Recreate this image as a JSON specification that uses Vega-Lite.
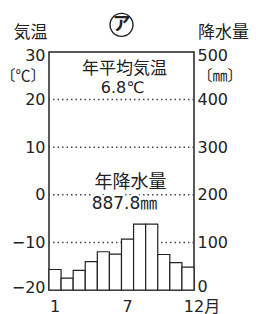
{
  "$schema": "https://vega.github.io/schema/vega-lite/v6.json",
  "width": 145,
  "height": 238,
  "autosize": {"type": "none"},
  "padding": {"left": 49, "top": 52, "right": 62, "bottom": 24},
  "background": "white",
  "config": {
    "view": {"stroke": "#222", "strokeWidth": 1.5},
    "font": "DejaVu Sans"
  },
  "datasets": {
    "climate": [
      {"month": 1, "precip": 43.1},
      {"month": 2, "precip": 24.8},
      {"month": 3, "precip": 41.2},
      {"month": 4, "precip": 59.6},
      {"month": 5, "precip": 80.4},
      {"month": 6, "precip": 75.3},
      {"month": 7, "precip": 106.8},
      {"month": 8, "precip": 138.5},
      {"month": 9, "precip": 138.2},
      {"month": 10, "precip": 74.6},
      {"month": 11, "precip": 57.4},
      {"month": 12, "precip": 47.9}
    ],
    "grid": [{"temp": 20}, {"temp": 10}, {"temp": 0}, {"temp": -10}],
    "one": [{}]
  },
  "layer": [
    {
      "data": {"name": "grid"},
      "mark": {"type": "rule", "stroke": "#444", "strokeWidth": 1.5, "strokeDash": [1.5, 3]},
      "encoding": {
        "y": {
          "field": "temp", "type": "quantitative",
          "scale": {"domain": [-20, 30], "nice": false, "zero": false},
          "axis": {
            "orient": "left",
            "values": [30, 25, 20, 10, 0, -10, -20],
            "labelExpr": "datum.value == 25 ? '〔℃〕' : datum.label",
            "labelOverlap": false,
            "grid": false, "ticks": false, "domain": false,
            "labelFontSize": {"condition": {"test": "datum.value == 25", "value": 15}, "value": 16},
            "labelFont": {"condition": {"test": "datum.value == 25", "value": "Noto Sans CJK JP"}, "value": "DejaVu Sans"},
            "labelColor": "#222",
            "labelPadding": 4,
            "labelOffset": {"condition": [{"test": "datum.value == 30", "value": 3}, {"test": "datum.value == -20", "value": -3}], "value": 0},
            "title": "気温",
            "titleAngle": 0, "titleX": -19, "titleY": -20,
            "titleAlign": "center", "titleBaseline": "middle",
            "titleFont": "Noto Sans CJK JP", "titleFontSize": 17, "titleFontWeight": "normal", "titleColor": "#222"
          }
        }
      }
    },
    {
      "data": {"name": "climate"},
      "mark": {"type": "bar", "fill": "white", "stroke": "#222", "strokeWidth": 1.2},
      "encoding": {
        "x": {
          "field": "month", "type": "ordinal",
          "scale": {"paddingInner": 0, "paddingOuter": 0},
          "axis": {
            "values": [1, 7, 12],
            "labelExpr": "datum.value == 12 ? '12月' : datum.label",
            "labelAngle": 0, "ticks": false, "domain": false, "title": null,
            "labelFont": "DejaVu Sans, Noto Sans CJK JP", "labelFontSize": 16, "labelColor": "#222",
            "labelPadding": 8,
            "labelOffset": {"condition": {"test": "datum.value == 12", "value": 14}, "value": 0}
          }
        },
        "y": {
          "field": "precip", "type": "quantitative",
          "scale": {"domain": [0, 500], "nice": false},
          "axis": {
            "orient": "right",
            "values": [500, 450, 400, 300, 200, 100, 0],
            "labelExpr": "datum.value == 450 ? '〔㎜〕' : datum.label",
            "labelOverlap": false,
            "grid": false, "ticks": false, "domain": false,
            "labelFontSize": {"condition": {"test": "datum.value == 450", "value": 15}, "value": 16},
            "labelFont": {"condition": {"test": "datum.value == 450", "value": "Noto Sans CJK JP"}, "value": "DejaVu Sans"},
            "labelColor": "#222",
            "labelPadding": 3,
            "labelOffset": {"condition": [{"test": "datum.value == 500", "value": 3}, {"test": "datum.value == 0", "value": -4}], "value": 0},
            "title": "降水量",
            "titleAngle": 0, "titleX": 29, "titleY": -20,
            "titleAlign": "center", "titleBaseline": "middle",
            "titleFont": "Noto Sans CJK JP", "titleFontSize": 17, "titleFontWeight": "normal", "titleColor": "#222"
          }
        }
      }
    },
    {
      "data": {"name": "one"},
      "layer": [
        {
          "mark": {"type": "text", "text": "年平均気温", "font": "Noto Sans CJK JP", "fontSize": 17, "fill": "#222", "baseline": "middle", "dx": 3},
          "encoding": {"y": {"datum": 26.5, "type": "quantitative", "scale": {"domain": [-20, 30], "nice": false, "zero": false}, "axis": null}}
        },
        {
          "mark": {"type": "text", "text": "6.8℃", "font": "DejaVu Sans", "fontSize": 16, "fill": "#222", "baseline": "middle", "dx": 1},
          "encoding": {"y": {"datum": 22.4, "type": "quantitative", "scale": {"domain": [-20, 30], "nice": false, "zero": false}, "axis": null}}
        },
        {
          "mark": {"type": "text", "text": "年降水量", "font": "Noto Sans CJK JP", "fontSize": 18, "fill": "white", "stroke": "white", "strokeWidth": 5, "baseline": "middle", "dx": 9},
          "encoding": {"y": {"datum": 2.5, "type": "quantitative", "scale": {"domain": [-20, 30], "nice": false, "zero": false}, "axis": null}}
        },
        {
          "mark": {"type": "text", "text": "887.8㎜", "font": "DejaVu Sans, Noto Sans CJK JP", "fontSize": 17, "fill": "white", "stroke": "white", "strokeWidth": 5, "baseline": "middle", "dx": 3},
          "encoding": {"y": {"datum": -1.9, "type": "quantitative", "scale": {"domain": [-20, 30], "nice": false, "zero": false}, "axis": null}}
        },
        {
          "mark": {"type": "text", "text": "年降水量", "font": "Noto Sans CJK JP", "fontSize": 18, "fill": "#222", "baseline": "middle", "dx": 9},
          "encoding": {"y": {"datum": 2.5, "type": "quantitative", "scale": {"domain": [-20, 30], "nice": false, "zero": false}, "axis": null}}
        },
        {
          "mark": {"type": "text", "text": "887.8㎜", "font": "DejaVu Sans, Noto Sans CJK JP", "fontSize": 17, "fill": "#222", "baseline": "middle", "dx": 3},
          "encoding": {"y": {"datum": -1.9, "type": "quantitative", "scale": {"domain": [-20, 30], "nice": false, "zero": false}, "axis": null}}
        },
        {
          "mark": {"type": "point", "shape": "circle", "size": 529, "filled": false, "stroke": "#222", "strokeWidth": 1.4, "opacity": 1},
          "encoding": {"y": {"datum": 35.7, "type": "quantitative", "scale": {"domain": [-20, 30], "nice": false, "zero": false}, "axis": null}}
        },
        {
          "mark": {"type": "text", "text": "ア", "font": "Noto Sans CJK JP", "fontSize": 18, "fontWeight": "bold", "fill": "#222", "baseline": "middle", "dx": 0},
          "encoding": {"y": {"datum": 35.7, "type": "quantitative", "scale": {"domain": [-20, 30], "nice": false, "zero": false}, "axis": null}}
        }
      ]
    }
  ],
  "resolve": {"scale": {"y": "independent"}}
}
